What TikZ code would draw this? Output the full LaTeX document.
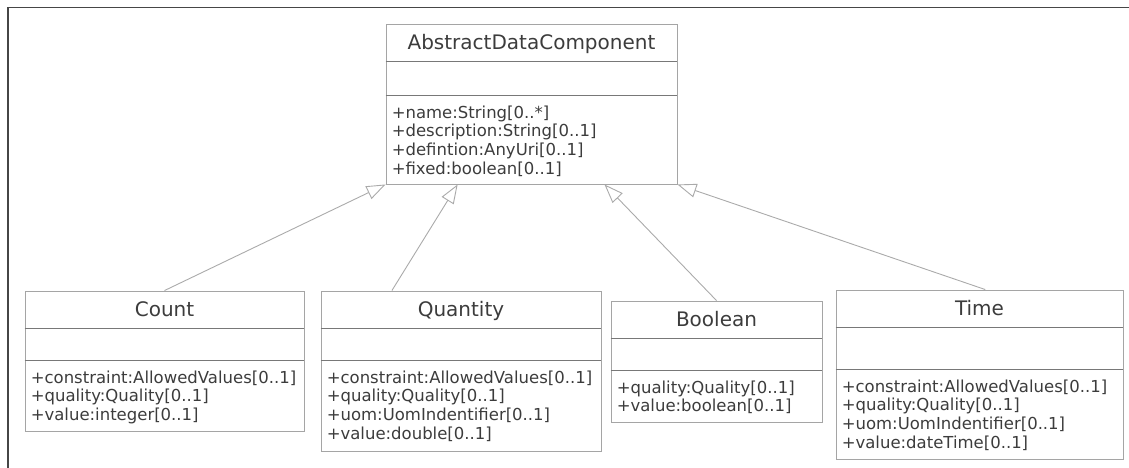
\documentclass[tikz,border=0pt]{standalone}
\usepackage{fontspec}
\setmainfont{DejaVu Sans}
\usetikzlibrary{arrows.meta,calc}
\definecolor{boxline}{RGB}{165,165,165}
\definecolor{divline}{RGB}{120,120,120}
\definecolor{txtgray}{RGB}{60,60,60}
\definecolor{arrowgray}{RGB}{170,170,170}
\definecolor{framegray}{RGB}{70,70,70}

\begin{document}
\begin{tikzpicture}[
  x=1pt, y=-1pt,
  cls/.style={rectangle, draw=boxline, line width=0.9pt, inner sep=0pt},
  sep/.style={draw=divline, line width=0.9pt},
  title/.style={anchor=base, inner sep=0pt, text=txtgray, font=\fontsize{20}{24}\selectfont},
  attr/.style={anchor=north west, inner sep=0pt, align=left, text=txtgray, font=\fontsize{16.5}{18.7}\selectfont},
  gen/.style={draw=arrowgray, line width=0.9pt, -{Triangle[open, length=19pt, width=14pt]}}
]
\useasboundingbox (0,0) rectangle (1129,468);
\draw[framegray, line width=1.2pt] (8,468) -- (8,7.5) -- (1129,7.5);

% classes
\node[cls, minimum width=291pt, minimum height=160pt] (adc) at (531.5,104) {};
\node[cls, minimum width=279pt, minimum height=140pt] (count) at (164.5,361) {};
\node[cls, minimum width=280pt, minimum height=160pt] (quantity) at (461,371) {};
\node[cls, minimum width=211pt, minimum height=121pt] (boolean) at (716.5,361.5) {};
\node[cls, minimum width=287pt, minimum height=169pt] (time) at (979.5,374.5) {};

% compartments
\foreach \c/\a/\b in {adc/38/72, count/38/70, quantity/38/70, boolean/38/70, time/38/80} {
  \draw[sep] ($(\c.north west)+(0,\a)$) -- ($(\c.north east)+(0,\a)$);
  \draw[sep] ($(\c.north west)+(0,\b)$) -- ($(\c.north east)+(0,\b)$);
}

\node[title] (adc-title) at ($(adc.north)+(0,26)$) {AbstractDataComponent};
\node[title] (count-title) at ($(count.north)+(0,26)$) {Count};
\node[title] (quantity-title) at ($(quantity.north)+(0,26)$) {Quantity};
\node[title] (boolean-title) at ($(boolean.north)+(0,26)$) {Boolean};
\node[title] (time-title) at ($(time.north)+(0,26)$) {Time};

\node[attr] (adc-attr) at ($(adc.north west)+(6,82)$) {+name:String[0..*]\\+description:String[0..1]\\+defintion:AnyUri[0..1]\\+fixed:boolean[0..1]};
\node[attr] (count-attr) at ($(count.north west)+(6,80)$) {+constraint:AllowedValues[0..1]\\+quality:Quality[0..1]\\+value:integer[0..1]};
\node[attr] (quantity-attr) at ($(quantity.north west)+(6,80)$) {+constraint:AllowedValues[0..1]\\+quality:Quality[0..1]\\+uom:UomIndentifier[0..1]\\+value:double[0..1]};
\node[attr] (boolean-attr) at ($(boolean.north west)+(6,80)$) {+quality:Quality[0..1]\\+value:boolean[0..1]};
\node[attr] (time-attr) at ($(time.north west)+(6,90)$) {+constraint:AllowedValues[0..1]\\+quality:Quality[0..1]\\+uom:UomIndentifier[0..1]\\+value:dateTime[0..1]};

% generalization
\coordinate (adc-q) at ($(adc.south west)!0.247!(adc.south east)$);
\coordinate (adc-b) at ($(adc.south west)!0.75!(adc.south east)$);
\coordinate (quantity-top) at ($(quantity.north west)!0.254!(quantity.north east)$);
\coordinate (time-top) at ($(time.north west)!0.52!(time.north east)$);
\draw[gen] (count.north) -- (adc.south west);
\draw[gen] (quantity-top) -- (adc-q);
\draw[gen] (boolean.north) -- (adc-b);
\draw[gen] (time-top) -- (adc.south east);
\end{tikzpicture}
\end{document}
